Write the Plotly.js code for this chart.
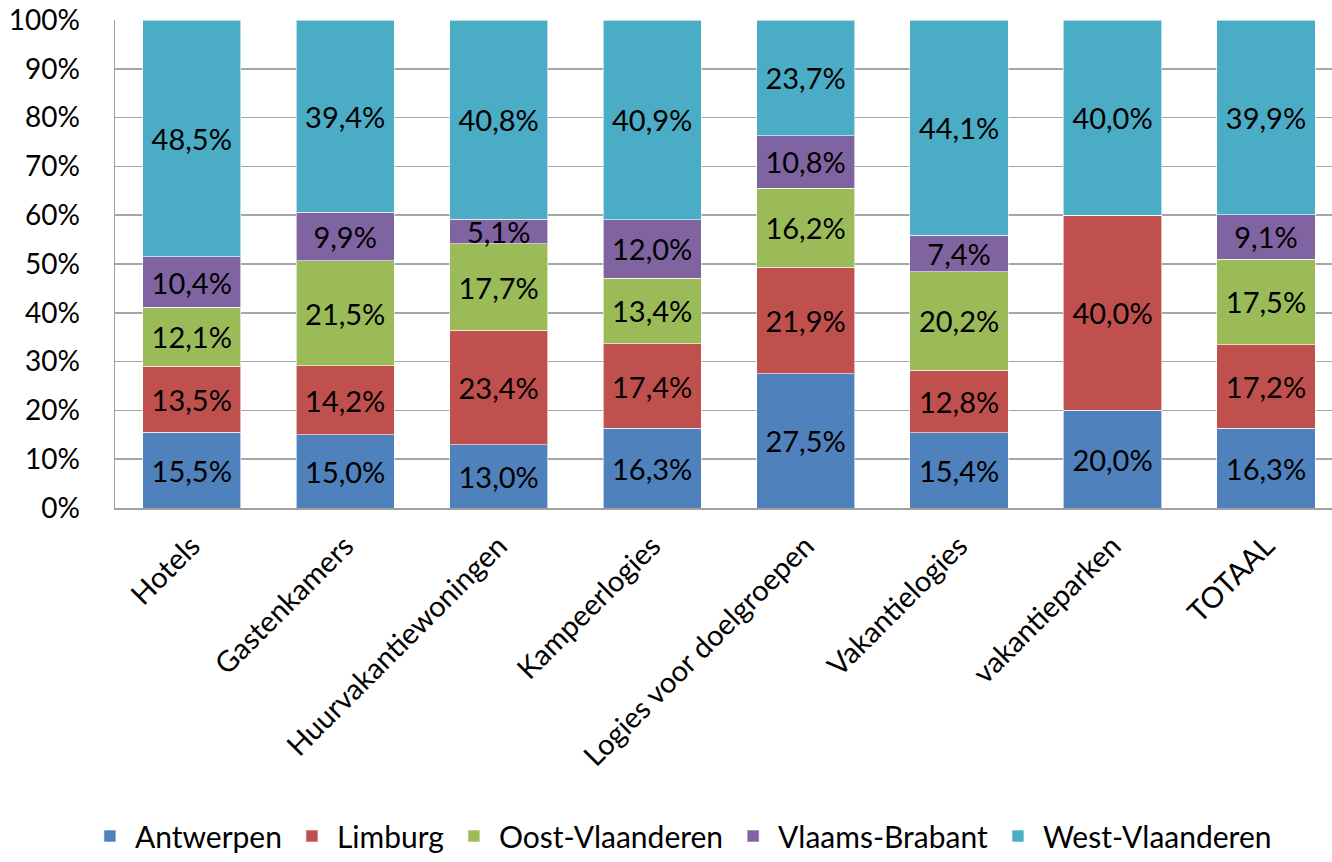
<!DOCTYPE html>
<html>
<head>
<meta charset="utf-8">
<script src="https://cdn.plot.ly/plotly-3.0.1.min.js"></script>
<style>html,body{margin:0;padding:0;background:#fff;}#chart{width:1332px;height:862px;}</style>
</head>
<body>
<div id="chart"></div>
<script>
const categories = ["Hotels", "Gastenkamers", "Huurvakantiewoningen", "Kampeerlogies", "Logies voor doelgroepen", "Vakantielogies", "vakantieparken", "TOTAAL"];
const antwerpen = [15.5, 15.0, 13.0, 16.3, 27.5, 15.4, 20.0, 16.3];
const limburg = [13.5, 14.2, 23.4, 17.4, 21.9, 12.8, 40.0, 17.2];
const oostVlaanderen = [12.1, 21.5, 17.7, 13.4, 16.2, 20.2, 0, 17.5];
const vlaamsBrabant = [10.4, 9.9, 5.1, 12.0, 10.8, 7.4, 0, 9.1];
const westVlaanderen = [48.5, 39.4, 40.8, 40.9, 23.7, 44.1, 40.0, 39.9];
const yTicks = [0, 10, 20, 30, 40, 50, 60, 70, 80, 90, 100];

const series = [
  {name: "Antwerpen", values: antwerpen, color: "#4F81BD"},
  {name: "Limburg", values: limburg, color: "#C0504D"},
  {name: "Oost-Vlaanderen", values: oostVlaanderen, color: "#9BBB59"},
  {name: "Vlaams-Brabant", values: vlaamsBrabant, color: "#8064A2"},
  {name: "West-Vlaanderen", values: westVlaanderen, color: "#4BACC6"}
];
const FONT = "Lato, 'Open Sans', sans-serif";
const fmt = v => v > 0 ? v.toFixed(1).replace('.', ',') + '%' : '';

const traces = series.map(s => ({
  type: 'bar',
  name: s.name,
  x: categories.map((c, i) => i),
  y: s.values,
  text: s.values.map(fmt),
  textposition: 'inside',
  insidetextanchor: 'middle',
  constraintext: 'none',
  textfont: {family: FONT, size: 29, color: '#000'},
  marker: {color: s.color, line: {color: 'rgba(255,255,255,0.6)', width: 1}},
  hoverinfo: 'name+text'
}));

const layout = {
  width: 1332, height: 862,
  margin: {l: 115, r: 0, t: 20, b: 349},
  barmode: 'stack',
  barnorm: 'percent',
  bargap: 0.36,
  paper_bgcolor: '#fff', plot_bgcolor: '#fff',
  font: {family: FONT, size: 28, color: '#000'},
  showlegend: true,
  legend: {orientation: 'h', x: 0.465, xanchor: 'center', y: -0.673, yanchor: 'middle',
           traceorder: 'normal', font: {family: FONT, size: 30, color: '#000'}, itemwidth: 40},
  xaxis: {
    range: [-0.5, 7.43],
    tickmode: 'array',
    tickvals: categories.map((c, i) => i),
    ticktext: categories,
    tickangle: -45,
    ticks: '',
    ticklabelstandoff: 8,
    showgrid: false,
    zeroline: false,
    showline: true, linecolor: '#A0A0A0', linewidth: 1.5,
    tickfont: {family: FONT, size: 29, color: '#000'},
    fixedrange: true
  },
  yaxis: {
    range: [0, 100],
    tickmode: 'array',
    tickvals: yTicks,
    ticktext: yTicks.map(v => v + '%'),
    ticks: '',
    ticklabelstandoff: 28,
    showgrid: true, gridcolor: '#A6A6A6', gridwidth: 1.5,
    zeroline: false,
    showline: true, linecolor: '#A0A0A0', linewidth: 1.5,
    tickfont: {family: FONT, size: 28, color: '#000'},
    fixedrange: true
  }
};

Plotly.newPlot('chart', traces, layout, {displayModeBar: false, staticPlot: true});
</script>
</body>
</html>
